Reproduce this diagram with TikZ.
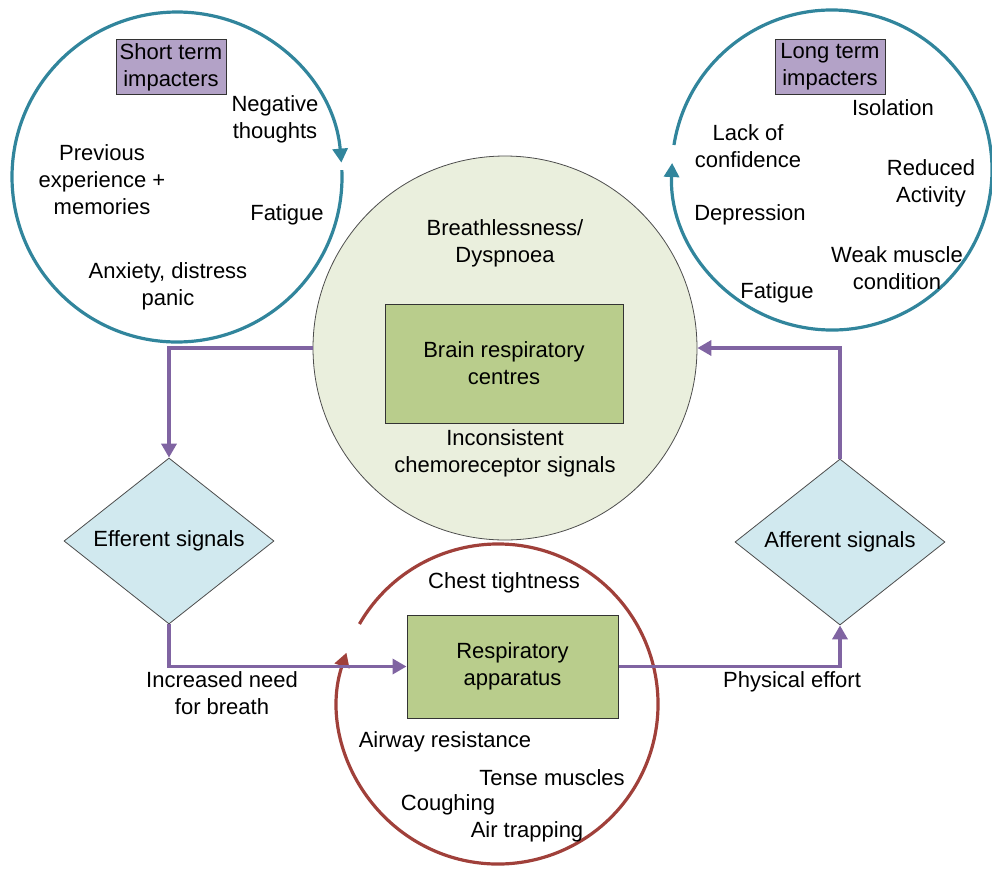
\documentclass[tikz,border=0pt]{standalone}
\usepackage{fontspec}
\setmainfont{Liberation Sans}
\usetikzlibrary{shapes.geometric,arrows.meta}
\definecolor{ringteal}{HTML}{31859C}
\definecolor{ringred}{HTML}{A0403A}
\definecolor{flowpurple}{HTML}{8064A2}
\definecolor{tagpurple}{HTML}{B3A2C7}
\definecolor{boxgreen}{HTML}{B9CD8C}
\definecolor{brainfill}{HTML}{EAEFDD}
\definecolor{sigblue}{HTML}{D1E9EF}

\begin{document}
\begin{tikzpicture}[x=0.5pt,y=-0.5pt,
  every node/.style={font=\fontsize{11}{13.5}\selectfont, align=center, inner sep=0pt},
  ring/.style={line width=1.6pt, -{Triangle[length=7pt,width=7.5pt]}},
  flow/.style={draw=flowpurple, line width=1.8pt, -{Triangle[length=7pt,width=7.5pt]}},
  tag/.style={draw=black!80, fill=tagpurple, line width=0.5pt, minimum width=55pt, minimum height=27.5pt},
  box/.style={draw=black!80, fill=boxgreen, line width=0.5pt},
  signal/.style={diamond, draw=black!70, fill=sigblue, line width=0.4pt, aspect=1.27,
    minimum width=105pt, minimum height=83pt}]
\useasboundingbox (0,0) rectangle (992,874);

% short term
\coordinate (stc) at (177,177);
\draw[ring, draw=ringteal] (stc) ++(-2.4:165) arc[start angle=-2.4, end angle=355, radius=165];
\node[tag] (sttag) at (171,67) {Short term\\impacters};
\node (stneg) at (275,119) {Negative\\thoughts};
\node (stprev) at (102,180) {Previous\\experience +\\memories};
\node (stfat) at (287,215) {Fatigue};
\node (stanx) at (168,286) {Anxiety, distress\\panic};

% long term
\coordinate (ltc) at (832,170);
\draw[ring, draw=ringteal] (ltc) ++(189:160) arc[start angle=189, end angle=542.5, radius=160];
\node[tag] (lttag) at (830,67) {Long term\\impacters};
\node (ltiso) at (893,108) {Isolation};
\node (ltlack) at (748,146) {Lack of\\confidence};
\node (ltred) at (931,183) {Reduced\\Activity};
\node (ltdep) at (750,215) {Depression};
\node (ltweak) at (897,268) {Weak muscle\\condition};
\node (ltfat) at (777,293) {Fatigue};

% brain
\node[circle, draw=black!70, fill=brainfill, line width=0.4pt, minimum size=192pt] (brain) at (505,348) {};
\node[box, minimum width=119pt, minimum height=59.5pt] (centres) at (504,363.5) {Brain respiratory\\centres};
\node (dysp) at (505,243) {Breathlessness/\\Dyspnoea};
\node (chemo) at (505,453) {Inconsistent\\chemoreceptor signals};

\node[signal] (eff) at (169,541) {Efferent signals};
\node[signal] (aff) at (840,542) {Afferent signals};

% respiratory apparatus
\coordinate (rac) at (498,704);
\draw[ring, draw=ringred] (rac) ++(210:160) arc[start angle=210, end angle=558.7, radius=160];
\node[box, minimum width=105.5pt, minimum height=51.5pt] (resp) at (512.5,666.5) {Respiratory\\apparatus};
\node (chest) at (504,583) {Chest tightness};
\node (airway) at (445,742) {Airway resistance};
\node (tense) at (552,778) {Tense muscles};
\node (cough) at (448,805) {Coughing};
\node (trap) at (527,832) {Air trapping};

\draw[flow] (brain.west) -| (eff.north);
\draw[flow] (eff.south) |- (resp.west);
\draw[flow] (resp.east) -| (aff.south);
\draw[flow] (aff.north) |- (brain.east);
\node (need) at (222,693) {Increased need\\for breath};
\node (effort) at (792,682) {Physical effort};
\end{tikzpicture}
\end{document}
